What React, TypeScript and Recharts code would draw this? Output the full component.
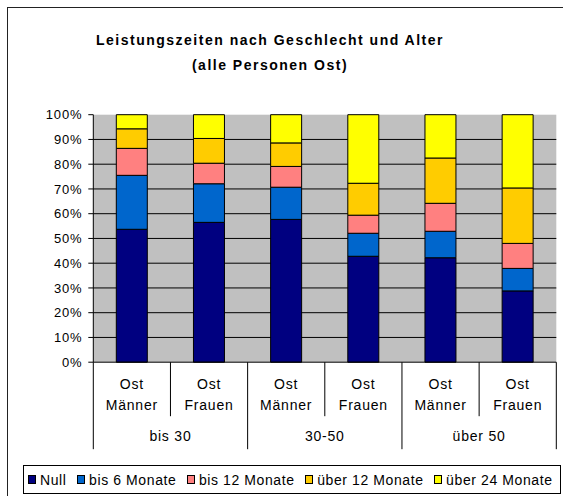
import React from "react";
import { BarChart, Bar, XAxis, YAxis, CartesianGrid } from "recharts";

const categories = ["Ost Männer", "Ost Frauen", "Ost Männer", "Ost Frauen", "Ost Männer", "Ost Frauen"];
const groups = ["bis 30", "30-50", "über 50"];
const nullVals = [53.7, 56.5, 57.7, 42.8, 42.2, 28.8];
const bis6 = [21.8, 15.6, 13.0, 9.3, 10.7, 9.1];
const bis12 = [10.9, 8.3, 8.4, 7.3, 11.3, 10.1];
const ueber12 = [7.9, 10.0, 9.5, 12.9, 18.3, 22.4];
const ueber24 = [5.7, 9.6, 11.4, 27.7, 17.5, 29.6];
const yTicks = [0, 0.1, 0.2, 0.3, 0.4, 0.5, 0.6, 0.7, 0.8, 0.9, 1];
const seriesNames = ["Null", "bis 6 Monate", "bis 12 Monate", "über 12 Monate", "über 24 Monate"];
const seriesKeys = ["n0", "n6", "n12", "u12", "u24"];
const seriesColors = ["#000080", "#0066CC", "#FF8080", "#FFCC00", "#FFFF00"];

const data = categories.map((c, i) => ({
  name: c,
  idx: i,
  n0: nullVals[i],
  n6: bis6[i],
  n12: bis12[i],
  u12: ueber12[i],
  u24: ueber24[i],
}));

const W = 563;
const H = 496;
const PLOT_LEFT = 93.3;
const PLOT_RIGHT = 556.3;
const PLOT_TOP = 114.7;
const PLOT_BOTTOM = 362.2;
const Y_AXIS_W = 80;
const X_AXIS_H = 90;
const BAND = (PLOT_RIGHT - PLOT_LEFT) / categories.length;
const FONT = "Arial, 'Liberation Sans', sans-serif";

const CatTick = (props: any) => {
  const { x, payload } = props;
  const i = payload.index;
  const parts = String(payload.value).split(" ");
  const y0 = PLOT_BOTTOM;
  const isGroupEnd = i % 2 === 1;
  return (
    <g>
      <text x={x} y={y0 + 22} textAnchor="middle" dominantBaseline="central" fontSize={14} letterSpacing={0.8} fill="#000" fontFamily={FONT}>
        {parts[0]}
      </text>
      <text x={x} y={y0 + 43} textAnchor="middle" dominantBaseline="central" fontSize={14} letterSpacing={0.8} fill="#000" fontFamily={FONT}>
        {parts[1]}
      </text>
      <line x1={x + BAND / 2} x2={x + BAND / 2} y1={y0} y2={isGroupEnd ? y0 + 87 : y0 + 54} stroke="#000" strokeWidth={1} />
      {i === 0 && <line x1={x - BAND / 2} x2={x - BAND / 2} y1={y0} y2={y0 + 87} stroke="#000" strokeWidth={1} />}
      {isGroupEnd && (
        <text x={x - BAND / 2} y={y0 + 74} textAnchor="middle" dominantBaseline="central" fontSize={14} letterSpacing={0.8} fill="#000" fontFamily={FONT}>
          {groups[(i - 1) / 2]}
        </text>
      )}
    </g>
  );
};

export default function App() {
  return (
    <div style={{ position: "absolute", left: 0, top: 0, width: W, height: H, overflow: "hidden", background: "#fff", fontFamily: FONT }}>
      <div style={{ position: "absolute", left: 7, top: 7, width: 700, height: 700, border: "1px solid #222", boxSizing: "border-box" }} />
      <div style={{ position: "absolute", left: 0, width: 540, top: 28, textAlign: "center", fontWeight: "bold", fontSize: 14, letterSpacing: 1.5, lineHeight: "25px", color: "#000" }}>
        Leistungszeiten nach Geschlecht und Alter
        <br />
        (alle Personen Ost)
      </div>
      <div style={{ position: "absolute", left: 0, top: 0 }}>
        <BarChart
          width={W}
          height={H}
          data={data}
          stackOffset="expand"
          barSize={31}
          margin={{ top: PLOT_TOP, right: W - PLOT_RIGHT, left: PLOT_LEFT - Y_AXIS_W, bottom: H - PLOT_BOTTOM - X_AXIS_H }}
        >
          <CartesianGrid vertical={false} stroke="#000" fill="#C0C0C0" fillOpacity={1} horizontalValues={yTicks.slice(1, 10)} />
          <XAxis dataKey="name" interval={0} tickLine={false} axisLine={{ stroke: "#000" }} tick={<CatTick />} height={X_AXIS_H} />
          <YAxis
            type="number"
            domain={[0, 1]}
            ticks={yTicks}
            width={Y_AXIS_W}
            tickSize={5}
            tickMargin={6}
            axisLine={{ stroke: "#000" }}
            tickLine={{ stroke: "#000" }}
            tickFormatter={(v: number) => `${Math.round(v * 100)}%`}
            tick={{ fill: "#000", fontSize: 13, letterSpacing: 0.8, fontFamily: FONT }}
          />
          {seriesKeys.map((k, i) => (
            <Bar key={k} dataKey={k} name={seriesNames[i]} stackId="a" fill={seriesColors[i]} stroke="#000" strokeWidth={1} isAnimationActive={false} />
          ))}
        </BarChart>
      </div>
      <div
        style={{
          position: "absolute",
          left: 23,
          top: 465,
          width: 538,
          height: 29,
          border: "1px solid #000",
          boxSizing: "border-box",
          display: "flex",
          alignItems: "center",
          paddingLeft: 4,
          gap: 10.5,
          fontSize: 14,
          letterSpacing: 0.6,
          color: "#000",
          whiteSpace: "nowrap",
        }}
      >
        {seriesNames.map((n, i) => (
          <div key={n} style={{ display: "flex", alignItems: "center" }}>
            <span style={{ display: "inline-block", width: 6, height: 7, background: seriesColors[i], border: "1px solid #000", marginRight: 4 }} />
            <span>{n}</span>
          </div>
        ))}
      </div>
    </div>
  );
}
